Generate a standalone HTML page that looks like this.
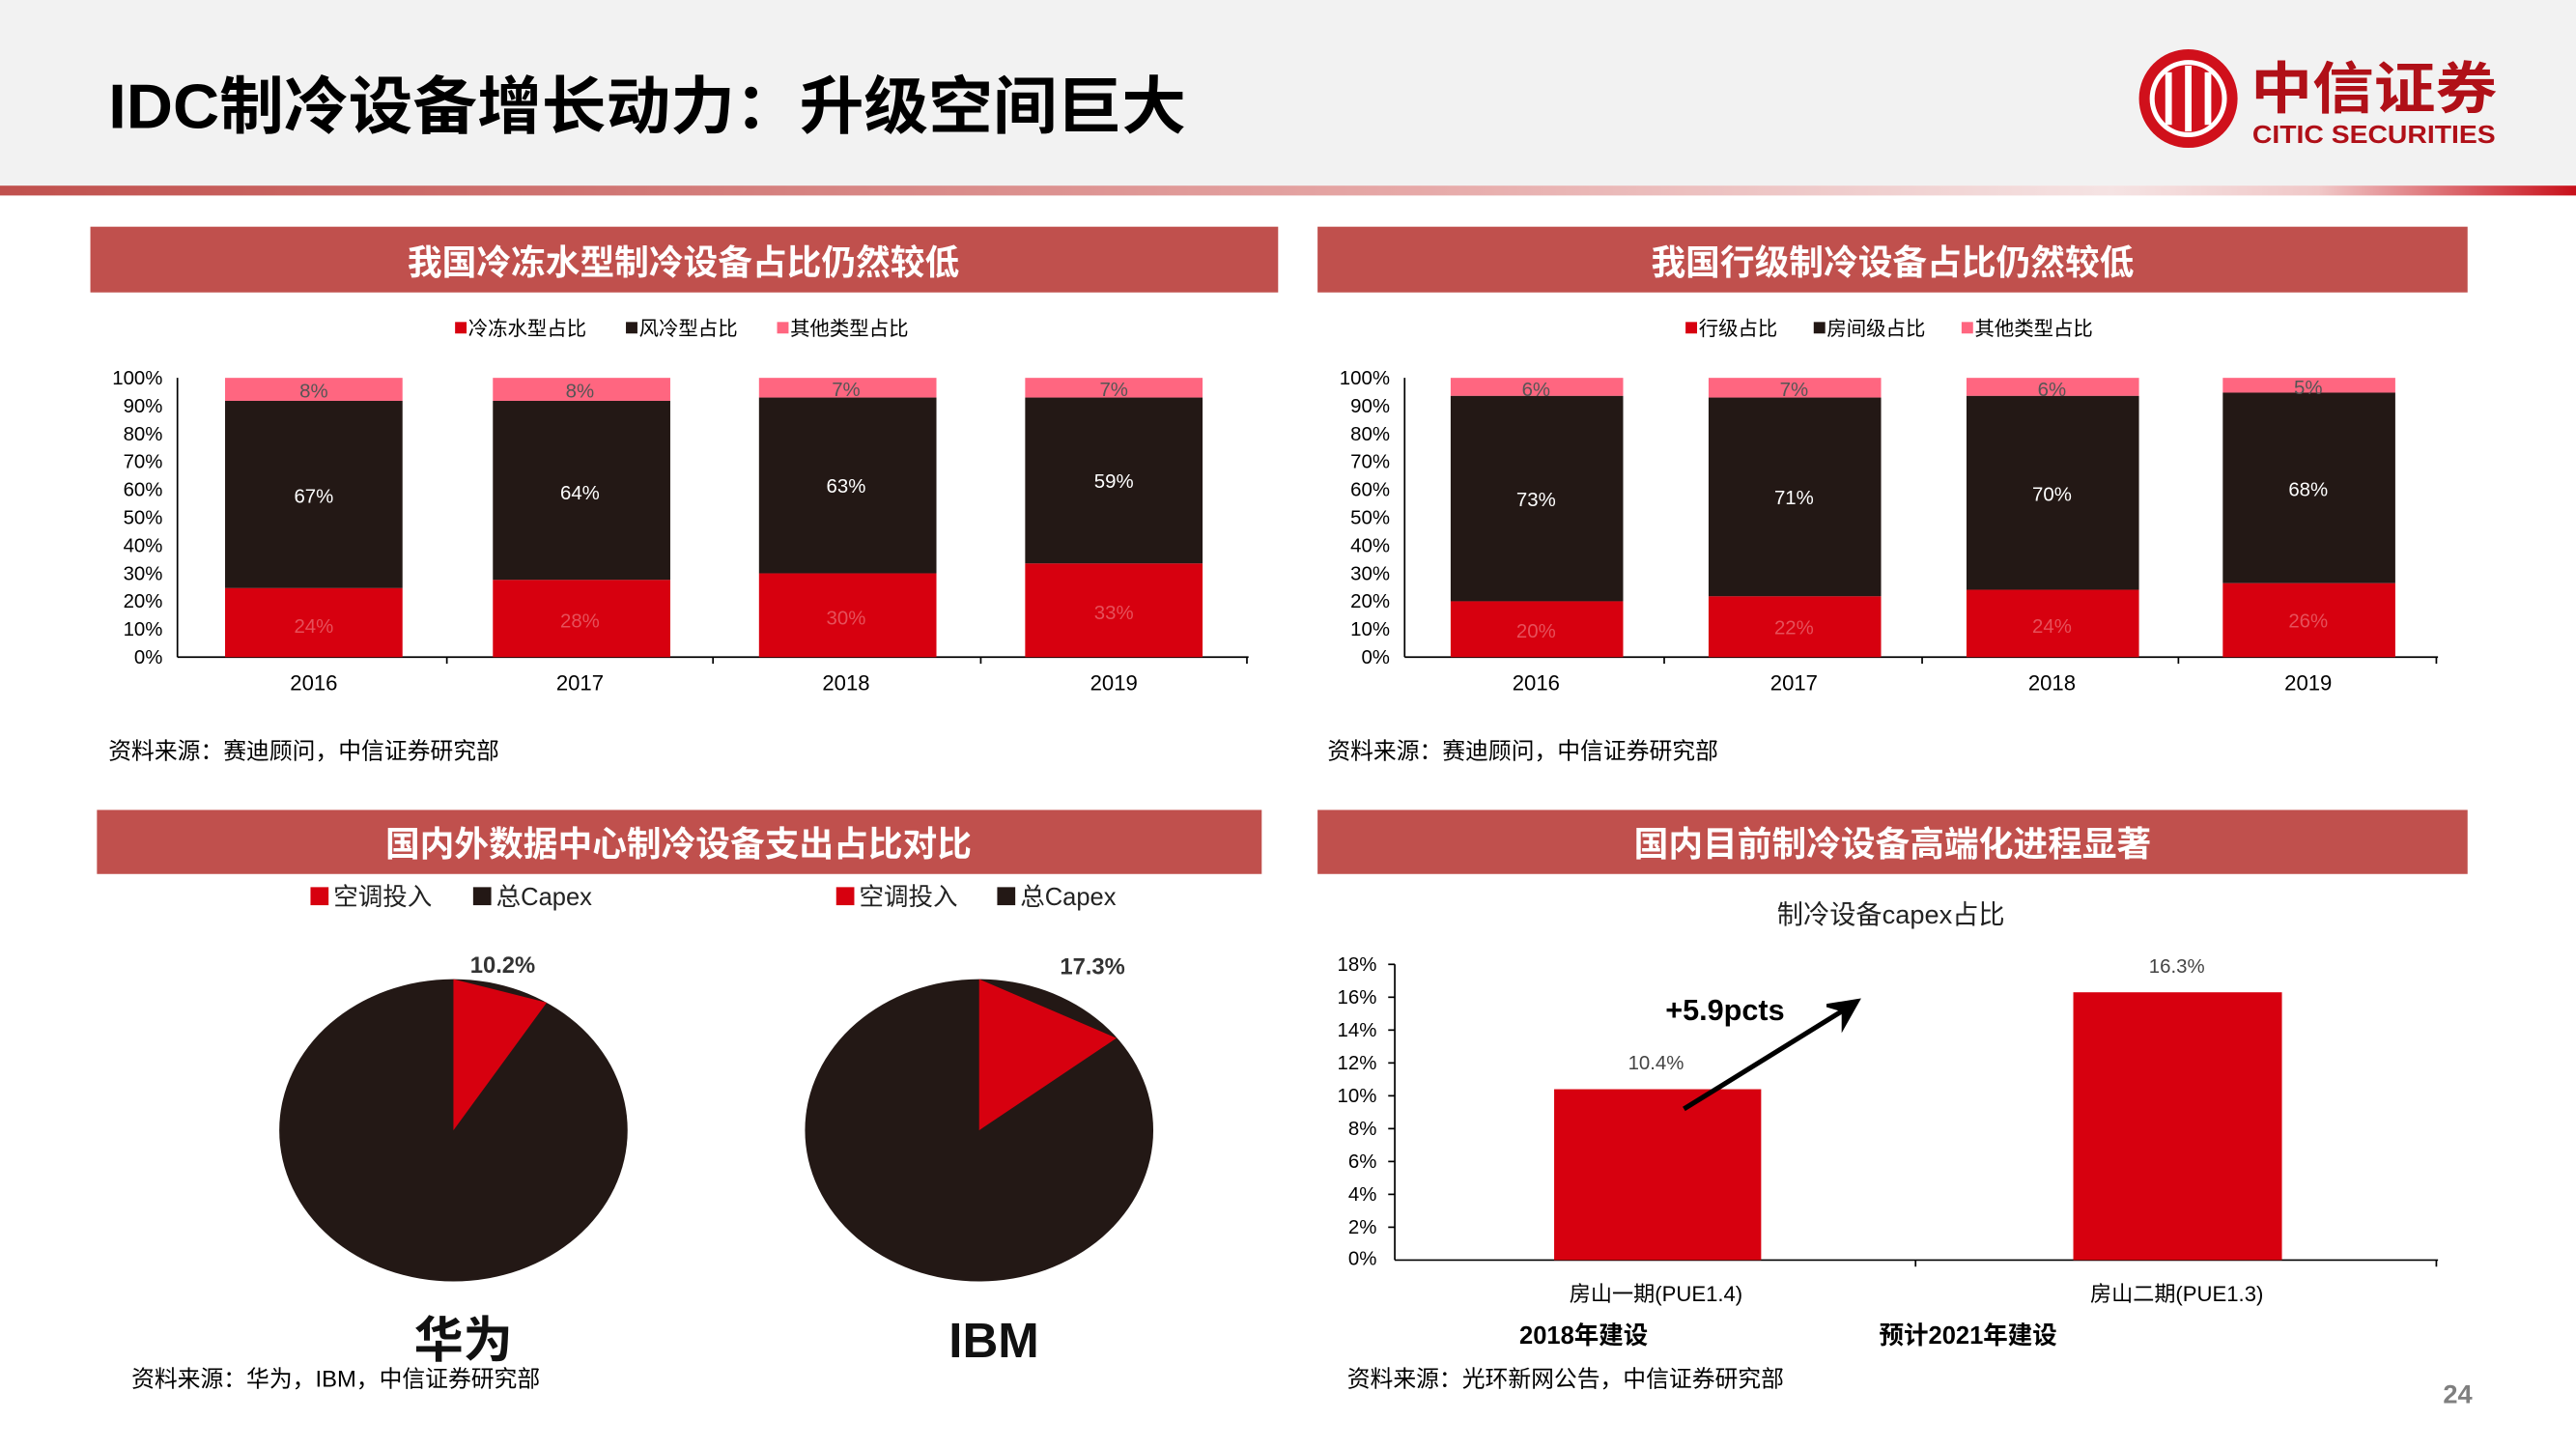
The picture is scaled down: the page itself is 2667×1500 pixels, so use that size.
<!DOCTYPE html>
<html><head><meta charset="utf-8"><style>
html,body{margin:0;padding:0;background:#fff;}
svg{display:block;}
text{font-family:"Liberation Sans","Noto Sans CJK SC",sans-serif;}
</style></head><body>
<svg width="2667" height="1500" viewBox="0 0 1568 882" preserveAspectRatio="none" xmlns="http://www.w3.org/2000/svg">
<defs>
<linearGradient id="g1" x1="0" x2="1" y1="0" y2="0">
<stop offset="0" stop-color="#c0504d"/><stop offset="0.55" stop-color="#e6a9a8"/><stop offset="0.82" stop-color="#f5e3e3"/><stop offset="0.9" stop-color="#f0c8c8"/><stop offset="1" stop-color="#c8101a"/>
</linearGradient>
</defs>
<rect x="0" y="0" width="1568" height="113" fill="#f2f2f2"/>
<rect x="0" y="113" width="1568" height="6" fill="url(#g1)"/>
<text x="66" y="78" font-size="38" font-weight="bold" fill="#000" textLength="656" lengthAdjust="spacingAndGlyphs">IDC制冷设备增长动力：升级空间巨大</text>
<!-- logo -->
<circle cx="1332" cy="60" r="30" fill="#d0101b"/>
<circle cx="1332" cy="60" r="22" fill="none" stroke="#fff" stroke-width="3"/>
<rect x="1318" y="44" width="4" height="32" fill="#fff"/><rect x="1330" y="40" width="4" height="40" fill="#fff"/><rect x="1342" y="44" width="4" height="32" fill="#fff"/>
<text x="1370" y="66" font-size="34" font-weight="bold" fill="#b01018" textLength="150" lengthAdjust="spacingAndGlyphs" font-family="Noto Serif CJK SC,serif">中信证券</text>
<text x="1371" y="87" font-size="15" font-weight="bold" fill="#b01018" textLength="148" lengthAdjust="spacingAndGlyphs">CITIC SECURITIES</text>

<!-- panel headers -->
<rect x="55" y="138" width="723" height="40" fill="#c0504d"/>
<text x="416" y="167" font-size="21" font-weight="bold" fill="#fff" text-anchor="middle">我国冷冻水型制冷设备占比仍然较低</text>
<rect x="802" y="138" width="700" height="40" fill="#c0504d"/>
<text x="1152" y="167" font-size="21" font-weight="bold" fill="#fff" text-anchor="middle">我国行级制冷设备占比仍然较低</text>
<rect x="59" y="493" width="709" height="39" fill="#c0504d"/>
<text x="413" y="521" font-size="21" font-weight="bold" fill="#fff" text-anchor="middle">国内外数据中心制冷设备支出占比对比</text>
<rect x="802" y="493" width="700" height="39" fill="#c0504d"/>
<text x="1152" y="521" font-size="21" font-weight="bold" fill="#fff" text-anchor="middle">国内目前制冷设备高端化进程显著</text>

<!-- chart1 -->
<g font-size="12" fill="#000">
<rect x="277" y="196" width="7" height="7" fill="#d7000f"/><text x="285" y="204">冷冻水型占比</text>
<rect x="381" y="196" width="7" height="7" fill="#231815"/><text x="389" y="204">风冷型占比</text>
<rect x="473" y="196" width="7" height="7" fill="#ff6680"/><text x="481" y="204">其他类型占比</text>
</g>
<g font-size="12" text-anchor="end" fill="#000">
<text x="99" y="234">100%</text><text x="99" y="251">90%</text><text x="99" y="268">80%</text><text x="99" y="285">70%</text><text x="99" y="302">60%</text><text x="99" y="319">50%</text><text x="99" y="336">40%</text><text x="99" y="353">30%</text><text x="99" y="370">20%</text><text x="99" y="387">10%</text><text x="99" y="404">0%</text>
</g>
<line x1="108" y1="230" x2="108" y2="400" stroke="#000"/>
<line x1="108" y1="400" x2="760" y2="400" stroke="#000"/>
<g stroke="#000"><line x1="272" y1="400" x2="272" y2="404"/><line x1="434" y1="400" x2="434" y2="404"/><line x1="597" y1="400" x2="597" y2="404"/><line x1="759" y1="400" x2="759" y2="404"/></g>
<g>
<rect x="137" y="230" width="108" height="14" fill="#ff6680"/><rect x="137" y="244" width="108" height="114" fill="#231815"/><rect x="137" y="358" width="108" height="42" fill="#d7000f"/>
<rect x="300" y="230" width="108" height="14" fill="#ff6680"/><rect x="300" y="244" width="108" height="109" fill="#231815"/><rect x="300" y="353" width="108" height="47" fill="#d7000f"/>
<rect x="462" y="230" width="108" height="12" fill="#ff6680"/><rect x="462" y="242" width="108" height="107" fill="#231815"/><rect x="462" y="349" width="108" height="51" fill="#d7000f"/>
<rect x="624" y="230" width="108" height="12" fill="#ff6680"/><rect x="624" y="242" width="108" height="101" fill="#231815"/><rect x="624" y="343" width="108" height="57" fill="#d7000f"/>
</g>
<g font-size="12" text-anchor="middle">
<text x="191" y="242" fill="#555">8%</text><text x="353" y="242" fill="#555">8%</text><text x="515" y="241" fill="#555">7%</text><text x="678" y="241" fill="#555">7%</text>
<text x="191" y="306" fill="#fff">67%</text><text x="353" y="304" fill="#fff">64%</text><text x="515" y="300" fill="#fff">63%</text><text x="678" y="297" fill="#fff">59%</text>
<text x="191" y="385" fill="#e6505a">24%</text><text x="353" y="382" fill="#e6505a">28%</text><text x="515" y="380" fill="#e6505a">30%</text><text x="678" y="377" fill="#e6505a">33%</text>
<text x="191" y="420" fill="#000" font-size="13">2016</text><text x="353" y="420" fill="#000" font-size="13">2017</text><text x="515" y="420" fill="#000" font-size="13">2018</text><text x="678" y="420" fill="#000" font-size="13">2019</text>
</g>
<text x="66" y="462" font-size="14" fill="#000">资料来源：赛迪顾问，中信证券研究部</text>

<!-- chart2 -->
<g font-size="12" fill="#000">
<rect x="1026" y="196" width="7" height="7" fill="#d7000f"/><text x="1034" y="204">行级占比</text>
<rect x="1104" y="196" width="7" height="7" fill="#231815"/><text x="1112" y="204">房间级占比</text>
<rect x="1194" y="196" width="7" height="7" fill="#ff6680"/><text x="1202" y="204">其他类型占比</text>
</g>
<g font-size="12" text-anchor="end" fill="#000">
<text x="846" y="234">100%</text><text x="846" y="251">90%</text><text x="846" y="268">80%</text><text x="846" y="285">70%</text><text x="846" y="302">60%</text><text x="846" y="319">50%</text><text x="846" y="336">40%</text><text x="846" y="353">30%</text><text x="846" y="370">20%</text><text x="846" y="387">10%</text><text x="846" y="404">0%</text>
</g>
<line x1="855" y1="230" x2="855" y2="400" stroke="#000"/>
<line x1="855" y1="400" x2="1484" y2="400" stroke="#000"/>
<g stroke="#000"><line x1="1013" y1="400" x2="1013" y2="404"/><line x1="1170" y1="400" x2="1170" y2="404"/><line x1="1326" y1="400" x2="1326" y2="404"/><line x1="1483" y1="400" x2="1483" y2="404"/></g>
<g>
<rect x="883" y="230" width="105" height="11" fill="#ff6680"/><rect x="883" y="241" width="105" height="125" fill="#231815"/><rect x="883" y="366" width="105" height="34" fill="#d7000f"/>
<rect x="1040" y="230" width="105" height="12" fill="#ff6680"/><rect x="1040" y="242" width="105" height="121" fill="#231815"/><rect x="1040" y="363" width="105" height="37" fill="#d7000f"/>
<rect x="1197" y="230" width="105" height="11" fill="#ff6680"/><rect x="1197" y="241" width="105" height="118" fill="#231815"/><rect x="1197" y="359" width="105" height="41" fill="#d7000f"/>
<rect x="1353" y="230" width="105" height="9" fill="#ff6680"/><rect x="1353" y="239" width="105" height="116" fill="#231815"/><rect x="1353" y="355" width="105" height="45" fill="#d7000f"/>
</g>
<g font-size="12" text-anchor="middle">
<text x="935" y="241" fill="#555">6%</text><text x="1092" y="241" fill="#555">7%</text><text x="1249" y="241" fill="#555">6%</text><text x="1405" y="240" fill="#555">5%</text>
<text x="935" y="308" fill="#fff">73%</text><text x="1092" y="307" fill="#fff">71%</text><text x="1249" y="305" fill="#fff">70%</text><text x="1405" y="302" fill="#fff">68%</text>
<text x="935" y="388" fill="#e6505a">20%</text><text x="1092" y="386" fill="#e6505a">22%</text><text x="1249" y="385" fill="#e6505a">24%</text><text x="1405" y="382" fill="#e6505a">26%</text>
<text x="935" y="420" fill="#000" font-size="13">2016</text><text x="1092" y="420" fill="#000" font-size="13">2017</text><text x="1249" y="420" fill="#000" font-size="13">2018</text><text x="1405" y="420" fill="#000" font-size="13">2019</text>
</g>
<text x="808" y="462" font-size="14" fill="#000">资料来源：赛迪顾问，中信证券研究部</text>

<!-- pies -->
<g font-size="15" fill="#222">
<rect x="189" y="540" width="11" height="11" fill="#d7000f"/><text x="203" y="551">空调投入</text>
<rect x="288" y="540" width="11" height="11" fill="#231815"/><text x="302" y="551">总Capex</text>
<rect x="509" y="540" width="11" height="11" fill="#d7000f"/><text x="523" y="551">空调投入</text>
<rect x="607" y="540" width="11" height="11" fill="#231815"/><text x="621" y="551">总Capex</text>
</g>
<ellipse cx="276" cy="688" rx="106" ry="92" fill="#231815"/>
<path d="M276,688 L276,596 L332.8,610.3 Z" fill="#d7000f"/>
<ellipse cx="596" cy="688" rx="106" ry="92" fill="#231815"/>
<path d="M596,688 L596,596 L679.6,631.9 Z" fill="#d7000f"/>
<text x="306" y="592" font-size="14" font-weight="bold" fill="#333" text-anchor="middle">10.2%</text>
<text x="665" y="593" font-size="14" font-weight="bold" fill="#333" text-anchor="middle">17.3%</text>
<text x="282" y="826" font-size="30" font-weight="bold" fill="#111" text-anchor="middle">华为</text>
<text x="605" y="826" font-size="30" font-weight="bold" fill="#111" text-anchor="middle">IBM</text>
<text x="80" y="844" font-size="14" fill="#000">资料来源：华为，IBM，中信证券研究部</text>

<!-- chart4 -->
<text x="1151" y="562" font-size="16" fill="#222" text-anchor="middle">制冷设备capex占比</text>
<g font-size="12" text-anchor="end" fill="#000">
<text x="838" y="591">18%</text><text x="838" y="611">16%</text><text x="838" y="631">14%</text><text x="838" y="651">12%</text><text x="838" y="671">10%</text><text x="838" y="691">8%</text><text x="838" y="711">6%</text><text x="838" y="731">4%</text><text x="838" y="751">2%</text><text x="838" y="770">0%</text>
</g>
<line x1="849" y1="587" x2="849" y2="767" stroke="#000"/>
<line x1="849" y1="767" x2="1484" y2="767" stroke="#000"/>
<g stroke="#000"><line x1="1166" y1="767" x2="1166" y2="771"/><line x1="1483" y1="767" x2="1483" y2="771"/>
<line x1="845" y1="587" x2="849" y2="587"/><line x1="845" y1="607" x2="849" y2="607"/><line x1="845" y1="627" x2="849" y2="627"/><line x1="845" y1="647" x2="849" y2="647"/><line x1="845" y1="667" x2="849" y2="667"/><line x1="845" y1="687" x2="849" y2="687"/><line x1="845" y1="707" x2="849" y2="707"/><line x1="845" y1="727" x2="849" y2="727"/><line x1="845" y1="747" x2="849" y2="747"/></g>
<rect x="946" y="663" width="126" height="104" fill="#d7000f"/>
<rect x="1262" y="604" width="127" height="163" fill="#d7000f"/>
<text x="1008" y="651" font-size="12" fill="#444" text-anchor="middle">10.4%</text>
<text x="1325" y="592" font-size="12" fill="#444" text-anchor="middle">16.3%</text>
<line x1="1025" y1="675" x2="1122" y2="615" stroke="#000" stroke-width="3"/>
<path d="M1131,609 L1112,612 L1122,615 L1122,625 Z" fill="#000" stroke="#000" stroke-width="2"/>
<text x="1050" y="621" font-size="18" font-weight="bold" fill="#000" text-anchor="middle">+5.9pcts</text>
<text x="1008" y="792" font-size="13" fill="#000" text-anchor="middle">房山一期(PUE1.4)</text>
<text x="1325" y="792" font-size="13" fill="#000" text-anchor="middle">房山二期(PUE1.3)</text>
<text x="964" y="818" font-size="15" font-weight="bold" fill="#000" text-anchor="middle">2018年建设</text>
<text x="1198" y="818" font-size="15" font-weight="bold" fill="#000" text-anchor="middle">预计2021年建设</text>
<text x="820" y="844" font-size="14" fill="#000">资料来源：光环新网公告，中信证券研究部</text>
<text x="1496" y="854" font-size="16" font-weight="bold" fill="#7f7f7f" text-anchor="middle">24</text>
</svg>
</body></html>
